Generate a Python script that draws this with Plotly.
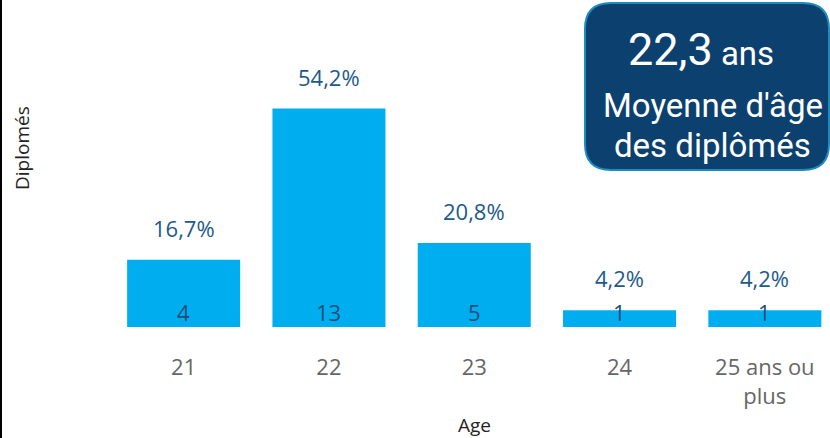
import plotly.graph_objects as go

ages = ["21", "22", "23", "24", "25 ans ou<br>plus"]
counts = [4, 13, 5, 1, 1]
pct_labels = ["16,7%", "54,2%", "20,8%", "4,2%", "4,2%"]
avg_age = "22,3"

W, H = 830, 438
L, R, T, B = 111, 0, 10, 111
PW, PH = W - L - R, H - T - B


def px(x):
    return (x - L) / PW


def py(y):
    return (H - B - y) / PH


fig = go.Figure()
fig.add_trace(go.Bar(
    x=list(range(len(ages))), y=counts, width=0.778,
    marker=dict(color="#00AEEF", line=dict(width=0)),
    hoverinfo="skip", showlegend=False,
))

annotations = []
for i, (c, p) in enumerate(zip(counts, pct_labels)):
    annotations.append(dict(x=i, y=c, xref="x", yref="y", text=p, showarrow=False,
                            yanchor="bottom", yshift=15,
                            font=dict(family="Open Sans", size=22, color="#1D5A8A")))
    annotations.append(dict(x=i, y=0, xref="x", yref="y", text=str(c), showarrow=False,
                            yanchor="bottom", yshift=-2,
                            font=dict(family="Open Sans", size=22, color="#1A4E79")))

# axis titles
annotations.append(dict(x=px(22), y=py(148), xref="paper", yref="paper", text="Diplomés",
                        textangle=-90, showarrow=False, xanchor="center", yanchor="middle",
                        font=dict(family="Open Sans", size=19, color="#252423")))
annotations.append(dict(x=px(475), y=py(425), xref="paper", yref="paper", text="Age",
                        showarrow=False, xanchor="center", yanchor="middle",
                        font=dict(family="Open Sans", size=19, color="#252423")))

# KPI box text
annotations.append(dict(x=px(701), y=py(49), xref="paper", yref="paper",
                        text=avg_age + "<span style='font-size:33px'> ans</span>",
                        showarrow=False, xanchor="center", yanchor="middle",
                        font=dict(family="Roboto", size=45, color="white")))
annotations.append(dict(x=px(713), y=py(105), xref="paper", yref="paper",
                        text="Moyenne d'âge", showarrow=False, xanchor="center", yanchor="middle",
                        font=dict(family="Roboto", size=33, color="white")))
annotations.append(dict(x=px(712), y=py(145), xref="paper", yref="paper",
                        text="des diplômés", showarrow=False, xanchor="center", yanchor="middle",
                        font=dict(family="Roboto", size=33, color="white")))

# rounded box
x0, x1, y0, y1 = px(585), px(829), py(170), py(3)
rx, ry = 26 / PW, 26 / PH
path = (f"M {x0+rx},{y1} L {x1-rx},{y1} Q {x1},{y1} {x1},{y1-ry} "
        f"L {x1},{y0+ry} Q {x1},{y0} {x1-rx},{y0} L {x0+rx},{y0} "
        f"Q {x0},{y0} {x0},{y0+ry} L {x0},{y1-ry} Q {x0},{y1} {x0+rx},{y1} Z")
shapes = [
    dict(type="path", xref="paper", yref="paper", path=path,
         fillcolor="#0C416F", line=dict(color="#1A8CC0", width=2), layer="above"),
    dict(type="line", xref="paper", yref="paper", x0=px(1), x1=px(1), y0=py(0), y1=py(H),
         line=dict(color="black", width=2)),
]

fig.update_layout(
    width=W, height=H,
    margin=dict(l=L, r=R, t=T, b=B),
    paper_bgcolor="white", plot_bgcolor="white",
    xaxis=dict(tickmode="array", tickvals=list(range(len(ages))), ticktext=ages,
               range=[-0.5, -0.5 + PW / 145.3], showgrid=False, zeroline=False,
               showline=False, ticks="outside", ticklen=21, tickcolor="rgba(0,0,0,0)",
               tickfont=dict(family="Open Sans", size=22, color="#666666")),
    yaxis=dict(range=[0, (H - B - T) / 16.8], showgrid=False, zeroline=False,
               showticklabels=False, showline=False),
    annotations=annotations, shapes=shapes,
    bargap=0.2,
)

fig.write_html("out.html", config={"displayModeBar": False},
               post_script="document.body.style.margin='0';")
